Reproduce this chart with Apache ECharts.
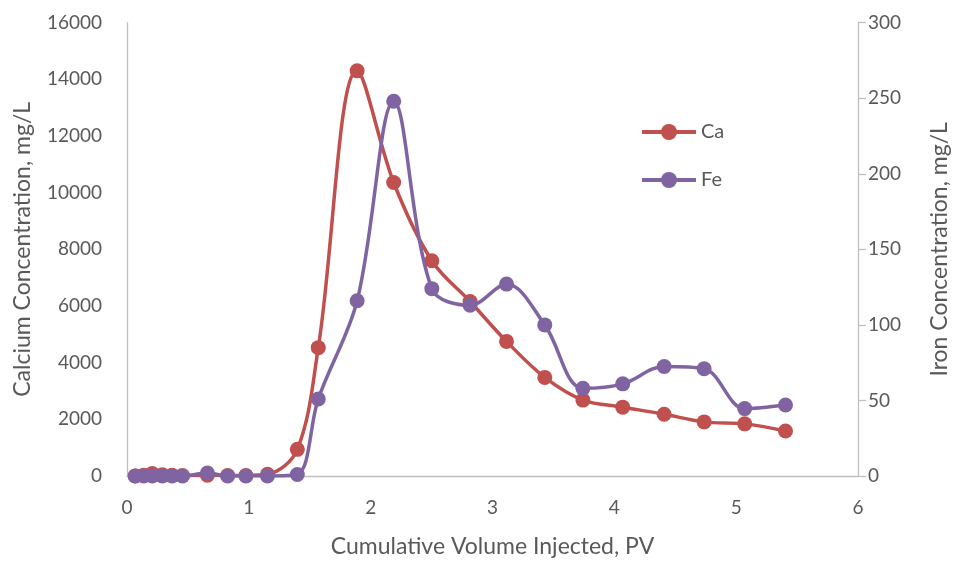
<!DOCTYPE html>
<html>
<head>
<meta charset="utf-8">
<script src="https://cdn.jsdelivr.net/npm/echarts@6/dist/echarts.min.js"></script>
<style>
  html, body { margin: 0; padding: 0; background: #fff; }
  #chart { width: 959px; height: 563px; }
</style>
</head>
<body>
<div id="chart"></div>
<script>
// Cumulative pore volumes injected (PV) at each sample
const pv = [0.067, 0.137, 0.207, 0.29, 0.37, 0.455, 0.66, 0.826, 0.976, 1.153, 1.398,
            1.57, 1.889, 2.189, 2.502, 2.816, 3.115, 3.429, 3.742, 4.069, 4.409, 4.737, 5.07, 5.405];
// Calcium concentration, mg/L
const caValues = [0, 30, 90, 40, 30, 20, 30, 20, 20, 60, 940,
                  4530, 14300, 10360, 7600, 6160, 4750, 3480, 2680, 2430, 2180, 1910, 1840, 1590];
// Iron concentration, mg/L
const feValues = [0, 0, 0, 0, 0, 0, 2, 0, 0, 0, 1,
                  51, 116, 248, 124, 113, 127, 100, 58, 61, 72.5, 71, 44.6, 47];

const xTicks = { min: 0, max: 6, interval: 1 };
const caTicks = { min: 0, max: 16000, interval: 2000 };
const feTicks = { min: 0, max: 300, interval: 50 };

const FONT = 'Lato';
const textColor = '#595959';
const axisColor = '#BFBFBF';
const TICK_SIZE = 19;
const TITLE_SIZE = 23;

const pairs = (xs, ys) => xs.map((x, i) => [x, ys[i]]);
const plain = v => String(v);

const chart = echarts.init(document.getElementById('chart'), null, { renderer: 'canvas' });
chart.setOption({
  animation: false,
  backgroundColor: '#fff',
  textStyle: { fontFamily: FONT },
  grid: { left: 127, right: 98, top: 22.7, bottom: 84.5, containLabel: false },
  legend: {
    orient: 'vertical',
    left: 640,
    top: 122,
    padding: 0,
    itemWidth: 54,
    itemHeight: 20,
    itemGap: 28,
    lineStyle: { width: 4 },
    textStyle: { fontFamily: FONT, fontSize: 20, color: textColor },
    data: ['Ca', 'Fe']
  },
  xAxis: {
    type: 'value',
    min: xTicks.min, max: xTicks.max, interval: xTicks.interval,
    name: 'Cumulative Volume Injected, PV',
    nameLocation: 'middle',
    nameGap: 59,
    nameTextStyle: { fontFamily: FONT, fontSize: TITLE_SIZE, color: textColor },
    axisLine: { show: true, lineStyle: { color: axisColor, width: 1.3 } },
    axisTick: { show: false },
    splitLine: { show: false },
    axisLabel: { fontFamily: FONT, fontSize: TICK_SIZE, color: textColor, margin: 22, formatter: plain }
  },
  yAxis: [
    {
      type: 'value',
      position: 'left',
      min: caTicks.min, max: caTicks.max, interval: caTicks.interval,
      name: 'Calcium Concentration, mg/L',
      nameLocation: 'middle',
      nameGap: 93,
      nameTextStyle: { fontFamily: FONT, fontSize: TITLE_SIZE, color: textColor },
      axisLine: { show: true, lineStyle: { color: axisColor, width: 1.3 } },
      axisTick: { show: false },
      splitLine: { show: false },
      axisLabel: { fontFamily: FONT, fontSize: TICK_SIZE, color: textColor, margin: 25, formatter: plain }
    },
    {
      type: 'value',
      position: 'right',
      min: feTicks.min, max: feTicks.max, interval: feTicks.interval,
      name: 'Iron Concentration, mg/L',
      nameLocation: 'middle',
      nameGap: 70,
      nameTextStyle: { fontFamily: FONT, fontSize: TITLE_SIZE, color: textColor },
      axisLine: { show: true, lineStyle: { color: axisColor, width: 1.3 } },
      axisTick: { show: true, inside: false, length: 8, lineStyle: { color: axisColor, width: 1.3 } },
      splitLine: { show: false },
      axisLabel: { fontFamily: FONT, fontSize: TICK_SIZE, color: textColor, margin: 10, formatter: plain }
    }
  ],
  series: [
    {
      name: 'Ca',
      type: 'line',
      yAxisIndex: 0,
      smooth: 0.35,
      symbol: 'circle',
      symbolSize: 15,
      data: pairs(pv, caValues),
      itemStyle: { color: '#C0504D' },
      lineStyle: { color: '#C0504D', width: 3.5 },
      z: 2
    },
    {
      name: 'Fe',
      type: 'line',
      yAxisIndex: 1,
      smooth: 0.35,
      symbol: 'circle',
      symbolSize: 15,
      data: pairs(pv, feValues),
      itemStyle: { color: '#8064A2' },
      lineStyle: { color: '#8064A2', width: 3.5 },
      z: 3
    }
  ]
});
</script>
</body>
</html>
